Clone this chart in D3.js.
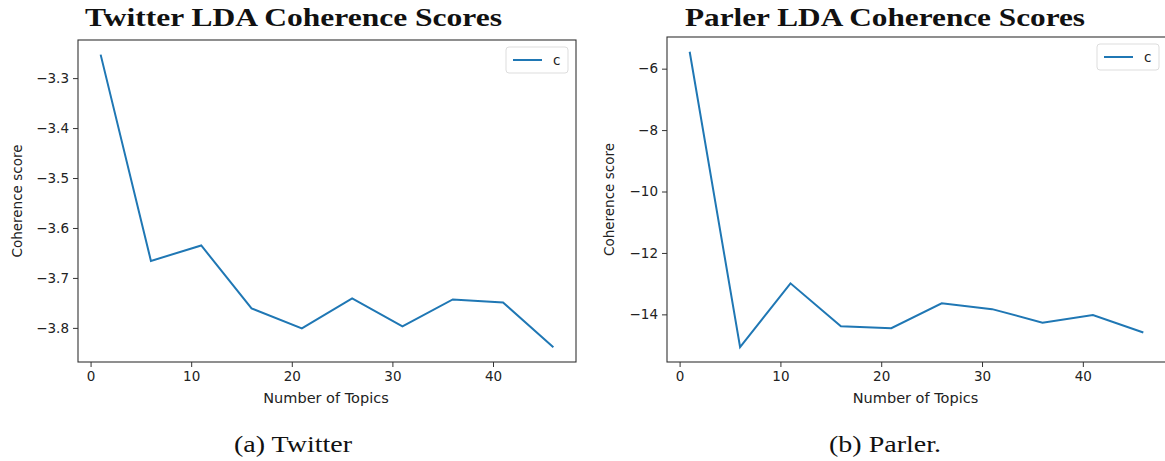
<!DOCTYPE html>
<html>
<head>
<meta charset="utf-8">
<script src="https://cdn.jsdelivr.net/npm/d3@7"></script>
<style>
  body { margin: 0; background: #fff; }
  svg text { fill: #222; }
</style>
</head>
<body>
<svg id="chart" width="1165" height="461"></svg>
<script>
// number of topics tried
const topics = [1, 6, 11, 16, 21, 26, 31, 36, 41, 46];
// coherence values
const twitterScores = [-3.253, -3.666, -3.635, -3.761, -3.801, -3.741, -3.797, -3.743, -3.749, -3.839];
const parlerScores = [-5.45, -15.07, -12.99, -14.385, -14.45, -13.64, -13.83, -14.27, -14.02, -14.59];
const xTicks = [0, 10, 20, 30, 40];
const twitterTicks = [-3.3, -3.4, -3.5, -3.6, -3.7, -3.8];
const parlerTicks = [-6, -8, -10, -12, -14];

const svg = d3.select("#chart");
const minus = s => s.replace("-", "\u2212");

function drawPanel(opts) {
  const { left, right, top, bottom, scores, yTicks, yFmt, title, titleX, titleW, caption, captionX, captionW, ylabelX, legend } = opts;

  // matplotlib-like 5% padding
  const xExt = d3.extent(topics), yExt = d3.extent(scores);
  const xPad = (xExt[1] - xExt[0]) * 0.05, yPad = (yExt[1] - yExt[0]) * 0.05;

  const x = d3.scaleLinear().domain([xExt[0] - xPad, xExt[1] + xPad]).range([left, right]);
  const y = d3.scaleLinear().domain([yExt[0] - yPad, yExt[1] + yPad]).range([bottom, top]);

  const g = svg.append("g");

  g.append("g")
    .attr("transform", "translate(0," + bottom + ")")
    .call(d3.axisBottom(x).tickValues(xTicks).tickSize(5).tickPadding(4).tickFormat(d3.format("d")))
    .call(a => a.select(".domain").remove())
    .call(a => a.selectAll("text").attr("font-family", "DejaVu Sans").attr("font-size", 13.5).style("fill", "#222"))
    .call(a => a.selectAll("line").attr("stroke", "#333"));

  g.append("g")
    .attr("transform", "translate(" + left + ",0)")
    .call(d3.axisLeft(y).tickValues(yTicks).tickSize(5).tickPadding(4).tickFormat(d => minus(yFmt(d))))
    .call(a => a.select(".domain").remove())
    .call(a => a.selectAll("text").attr("font-family", "DejaVu Sans").attr("font-size", 13.5).style("fill", "#222"))
    .call(a => a.selectAll("line").attr("stroke", "#333"));

  const line = d3.line().x((d, i) => x(topics[i])).y(d => y(d));
  g.append("path")
    .datum(scores)
    .attr("d", line)
    .attr("fill", "none")
    .attr("stroke", "#1f77b4")
    .attr("stroke-width", 2);

  g.append("rect")
    .attr("x", left).attr("y", top)
    .attr("width", right - left).attr("height", bottom - top)
    .attr("fill", "none").attr("stroke", "#333").attr("stroke-width", 1.1);

  // legend
  g.append("rect")
    .attr("x", legend.x).attr("y", legend.y).attr("width", 62).attr("height", 26)
    .attr("rx", 3).attr("fill", "#fff").attr("stroke", "#ddd");
  g.append("line")
    .attr("x1", legend.x + 7).attr("x2", legend.x + 36)
    .attr("y1", legend.y + 13).attr("y2", legend.y + 13)
    .attr("stroke", "#1f77b4").attr("stroke-width", 2);
  g.append("text")
    .attr("x", legend.x + 47).attr("y", legend.y + 18)
    .attr("font-family", "DejaVu Sans").attr("font-size", 13.5)
    .text("c");

  g.append("text")
    .attr("x", (left + right) / 2 - 1).attr("y", 403)
    .attr("text-anchor", "middle")
    .attr("font-family", "DejaVu Sans").attr("font-size", 14.5)
    .text("Number of Topics");

  g.append("text")
    .attr("transform", "translate(" + ylabelX + "," + ((top + bottom) / 2) + ") rotate(-90)")
    .attr("text-anchor", "middle")
    .attr("font-family", "DejaVu Sans").attr("font-size", 13.5)
    .text("Coherence score");

  g.append("text")
    .attr("x", titleX).attr("y", 26)
    .attr("font-family", "Liberation Serif").attr("font-weight", "bold").attr("font-size", 25)
    .attr("textLength", titleW).attr("lengthAdjust", "spacingAndGlyphs")
    .style("fill", "#111")
    .text(title);

  g.append("text")
    .attr("x", captionX).attr("y", 452)
    .attr("font-family", "Liberation Serif").attr("font-size", 24)
    .attr("textLength", captionW).attr("lengthAdjust", "spacingAndGlyphs")
    .style("fill", "#111")
    .text(caption);
}

drawPanel({
  left: 78, right: 576, top: 40, bottom: 362,
  scores: twitterScores, yTicks: twitterTicks, yFmt: d3.format(".1f"),
  title: "Twitter LDA Coherence Scores", titleX: 85, titleW: 417,
  caption: "(a) Twitter", captionX: 234, captionW: 118, ylabelX: 22,
  legend: { x: 506, y: 47 }
});

drawPanel({
  left: 667, right: 1166, top: 37, bottom: 362,
  scores: parlerScores, yTicks: parlerTicks, yFmt: d3.format("d"),
  title: "Parler LDA Coherence Scores", titleX: 685, titleW: 400,
  caption: "(b) Parler.", captionX: 829, captionW: 112, ylabelX: 614,
  legend: { x: 1097, y: 44 }
});
</script>
</body>
</html>
